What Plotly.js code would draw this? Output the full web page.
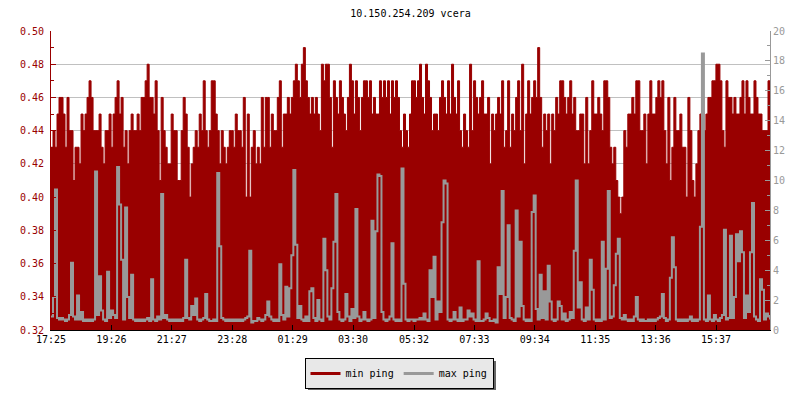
<!DOCTYPE html>
<html>
<head>
<meta charset="utf-8">
<script src="https://cdn.plot.ly/plotly-3.0.1.min.js"></script>
<style>html,body{margin:0;padding:0;background:#fff;}</style>
</head>
<body>
<div id="chart" style="width:800px;height:400px;"></div>
<script>
const chartTitle = '10.150.254.209 vcera';
const seriesNames = ['min ping', 'max ping'];
const tickLabels = ['17:25','19:26','21:27','23:28','01:29','03:30','05:32','07:33','09:34','11:35','13:36','15:37'];

// min ping (ms, left axis), one value per ~4 minutes
const minPing = [
0.43,0.44,0.43,0.45,0.46,0.46,0.45,0.43,0.46,0.44,0.44,0.41,0.43,0.43,0.42,0.45,0.44,0.45,0.46,0.47,
0.46,0.44,0.44,0.44,0.45,0.43,0.42,0.44,0.44,0.45,0.43,0.45,0.46,0.47,0.45,0.46,0.43,0.44,0.42,0.44,
0.45,0.44,0.44,0.45,0.44,0.46,0.46,0.47,0.48,0.46,0.46,0.45,0.47,0.44,0.41,0.46,0.44,0.43,0.42,0.42,
0.45,0.44,0.44,0.41,0.41,0.44,0.46,0.45,0.43,0.40,0.42,0.43,0.44,0.43,0.45,0.44,0.47,0.44,0.43,0.44,
0.47,0.47,0.45,0.44,0.42,0.44,0.43,0.42,0.43,0.44,
0.44,0.43,0.45,0.44,0.44,0.43,0.46,0.40,0.45,0.40,0.43,0.44,0.42,0.43,0.42,0.46,0.43,0.46,0.46,0.43,
0.45,0.44,0.44,0.46,0.47,0.43,0.45,0.45,0.46,0.45,0.46,0.47,0.48,0.47,0.46,0.48,0.49,0.47,0.46,0.45,
0.46,0.45,0.46,0.45,0.44,0.48,0.47,0.48,0.48,0.46,0.43,0.47,0.46,0.45,0.47,0.46,0.45,0.44,0.46,0.48,
0.47,0.45,0.47,0.46,0.44,0.46,0.47,0.47,0.46,0.47,0.45,0.46,0.45,0.45,0.47,0.46,0.47,0.46,0.47,0.45,
0.47,0.46,0.47,0.46,0.44,0.43,0.45,0.44,0.43,0.45,
0.47,0.47,0.46,0.47,0.48,0.46,0.45,0.48,0.47,0.46,0.44,0.45,0.45,0.44,0.46,0.47,0.46,0.45,0.47,0.45,
0.48,0.46,0.45,0.47,0.44,0.43,0.45,0.44,0.43,0.48,0.44,0.47,0.46,0.45,0.46,0.47,0.45,0.45,0.46,0.42,
0.45,0.44,0.45,0.46,0.45,0.47,0.43,0.44,0.47,0.43,0.45,0.44,0.46,0.47,0.44,0.48,0.42,0.45,0.47,0.45,
0.46,0.47,0.46,0.49,0.46,0.43,0.45,0.44,0.45,0.42,0.45,0.44,0.46,0.45,0.47,0.47,0.46,0.45,0.46,0.47,
0.45,0.46,0.44,0.44,0.45,0.45,0.42,0.46,0.42,0.44,
0.47,0.45,0.45,0.46,0.45,0.44,0.47,0.47,0.46,0.43,0.42,0.43,0.41,0.40,0.39,0.40,0.44,0.43,0.45,0.45,
0.46,0.45,0.47,0.47,0.44,0.44,0.45,0.42,0.45,0.47,0.45,0.45,0.46,0.47,0.46,0.47,0.44,0.42,0.46,0.41,
0.43,0.46,0.44,0.44,0.45,0.43,0.43,0.40,0.46,0.44,0.41,0.40,0.42,0.44,0.45,0.46,0.44,0.45,0.46,0.46,
0.47,0.47,0.48,0.48,0.47,0.44,0.43,0.47,0.46,0.46,0.45,0.46,0.45,0.45,0.46,0.47,0.45,0.47,0.46,0.45,
0.45,0.47,0.46,0.45,0.45,0.44,0.44,0.44,0.47,0.47
];

// max ping (ms, right axis)
const maxPing = [
0.9,2.2,9.4,0.8,0.7,0.8,0.7,0.6,0.7,1.0,4.5,0.9,0.7,2.3,0.7,1.2,0.6,0.7,0.6,0.7,
0.6,0.7,10.6,1.0,3.6,1.3,0.7,0.6,3.9,0.8,1.3,1.0,0.8,10.9,8.4,4.7,0.7,8.2,2.2,0.8,
3.7,0.7,0.6,0.7,0.6,0.7,0.6,0.7,0.8,0.6,3.4,0.7,0.6,0.9,0.7,9.1,0.8,1.0,0.7,0.6,
0.7,0.6,0.7,0.6,0.7,0.6,0.8,4.7,0.8,0.7,1.6,1.0,2.1,0.7,0.6,0.7,0.8,2.4,0.7,0.6,
0.6,0.7,0.6,10.5,5.6,0.8,0.7,0.6,0.7,0.6,
0.7,0.6,0.7,0.6,0.7,0.6,0.7,0.8,0.9,5.3,0.5,0.6,0.6,0.8,0.7,0.6,0.7,1.0,1.9,0.9,
0.7,0.6,0.7,0.6,4.4,1.0,0.7,2.9,0.9,2.8,5.0,10.7,5.7,0.8,1.6,0.7,0.6,0.9,0.6,2.6,
2.8,0.8,0.6,2.0,0.7,0.6,6.1,4.0,0.9,0.7,2.8,5.9,9.1,1.2,0.7,0.6,0.7,2.4,0.9,0.6,
1.4,0.8,8.1,0.9,0.6,0.7,1.2,0.7,0.6,0.7,7.3,0.8,6.6,10.4,10.3,1.2,0.7,0.6,0.7,0.9,
5.8,0.7,0.6,0.7,0.6,10.8,3.1,0.7,0.6,0.7,
0.7,0.6,0.7,0.7,0.8,0.7,1.1,0.7,0.6,4.0,2.2,4.9,0.7,1.9,1.2,7.2,10.0,9.8,0.7,0.6,
0.7,1.2,0.7,0.6,1.5,0.6,0.7,0.7,1.3,0.9,1.1,0.7,0.6,4.6,0.6,0.6,0.7,1.1,0.8,0.6,
0.6,0.7,0.5,4.2,2.4,9.3,0.8,2.2,7.0,0.8,0.7,0.6,8.0,0.9,5.9,1.6,0.7,0.6,0.7,0.6,
7.9,9.0,1.4,0.7,3.7,0.8,2.6,0.7,4.3,1.9,0.7,0.6,0.7,1.9,1.6,0.7,1.1,0.6,0.7,1.2,
0.8,5.3,10.0,1.5,3.2,0.7,0.6,1.5,0.7,4.7,
2.7,0.7,0.6,0.7,0.6,5.9,0.7,4.1,9.3,0.8,0.9,3.0,5.1,6.1,0.8,0.7,1.0,0.7,0.6,0.7,
0.6,0.9,2.2,0.7,0.6,0.7,0.6,0.6,0.7,0.6,0.7,0.6,0.7,0.8,0.9,2.4,0.8,0.6,0.7,3.5,
6.2,4.2,0.7,0.6,0.7,0.6,0.7,0.6,0.7,0.9,0.6,0.7,0.6,0.7,6.9,18.5,0.7,0.6,2.3,0.7,
0.6,1.0,0.7,0.6,0.8,1.0,6.7,0.7,0.8,6.3,0.8,2.2,6.4,4.6,6.6,5.2,0.8,2.3,1.2,5.2,
8.5,0.9,0.7,0.6,3.4,2.7,0.7,1.1,0.9,0.7
];

const RED = '#990000';
const GRAY = '#999999';
const FONT = '"DejaVu Sans Mono", "Liberation Mono", monospace';

function toMinutes(s) { const p = s.split(':'); return (+p[0]) * 60 + (+p[1]); }
const startMin = toMinutes(tickLabels[0]);
const tickMinutes = tickLabels.map(t => (toMinutes(t) - startMin + 1440) % 1440);
const n = minPing.length;
const xMinutes = minPing.map((_, i) => i * 1440 / (n - 1));

const traces = [
  { x: xMinutes, y: minPing, type: 'scatter', mode: 'lines', name: seriesNames[0],
    line: { color: RED, width: 1, shape: 'hv' }, fill: 'tozeroy', fillcolor: RED,
    showlegend: false, hoverinfo: 'skip' },
  { x: xMinutes, y: maxPing, type: 'scatter', mode: 'lines', name: seriesNames[1], yaxis: 'y2',
    line: { color: GRAY, width: 2, shape: 'hv' }, showlegend: false, hoverinfo: 'skip' },
  { x: [null], y: [null], type: 'scatter', mode: 'lines', name: seriesNames[0],
    line: { color: RED, width: 3 }, showlegend: true },
  { x: [null], y: [null], type: 'scatter', mode: 'lines', name: seriesNames[1],
    line: { color: GRAY, width: 3 }, showlegend: true }
];

// pixel helpers for the legend shadow (plot area spans x 51..770, y 31..330)
const px = v => (v - 51) / 719;
const py = v => (330 - v) / 299;

const layout = {
  width: 800, height: 400,
  margin: { l: 51, r: 30, t: 31, b: 70, autoexpand: false },
  paper_bgcolor: '#ffffff', plot_bgcolor: '#ffffff',
  font: { family: FONT, size: 10, color: '#000' },
  title: { text: chartTitle, font: { family: FONT, size: 10, color: '#000' },
           x: 0.5, xref: 'paper', xanchor: 'center', y: 1 - 13 / 400, yref: 'container', yanchor: 'middle' },
  xaxis: { range: [0, 1440], tickmode: 'array', tickvals: tickMinutes, ticktext: tickLabels,
           ticks: 'inside', ticklen: 5, tickcolor: '#000', showline: true, linecolor: '#000', linewidth: 1,
           showgrid: false, zeroline: false, tickfont: { family: FONT, size: 10, color: '#000' }, fixedrange: true },
  yaxis: { range: [0.32, 0.50], tick0: 0.32, dtick: 0.02, tickformat: '.2f',
           ticks: 'inside', ticklen: 5, tickcolor: RED, showline: true, linecolor: RED, linewidth: 1,
           showgrid: true, gridcolor: '#c0c0c0', gridwidth: 1, zeroline: false, ticklabelstandoff: 4,
           tickfont: { family: FONT, size: 10, color: RED },
           minor: { ticks: 'inside', ticklen: 3, dtick: 0.01, tickcolor: RED, showgrid: false }, fixedrange: true },
  yaxis2: { overlaying: 'y', side: 'right', range: [0, 20], tick0: 0, dtick: 2,
            ticks: 'inside', ticklen: 5, tickcolor: GRAY, showline: true, linecolor: GRAY, linewidth: 1,
            showgrid: false, zeroline: false, tickfont: { family: FONT, size: 10, color: GRAY },
            minor: { ticks: 'inside', ticklen: 3, dtick: 1, tickcolor: GRAY, showgrid: false }, fixedrange: true },
  showlegend: true,
  legend: { orientation: 'h', x: px(399), xanchor: 'center', y: py(358), yanchor: 'top',
            bgcolor: '#e8e8e8', bordercolor: '#000', borderwidth: 1, itemwidth: 30,
            font: { family: FONT, size: 10, color: '#000' } },
  shapes: [
    { type: 'rect', xref: 'paper', yref: 'paper', layer: 'above',
      x0: px(308), x1: px(496), y0: py(390), y1: py(361),
      fillcolor: '#666666', line: { width: 0 } }
  ]
};

Plotly.newPlot('chart', traces, layout, { staticPlot: true, displayModeBar: false });
</script>
</body>
</html>
